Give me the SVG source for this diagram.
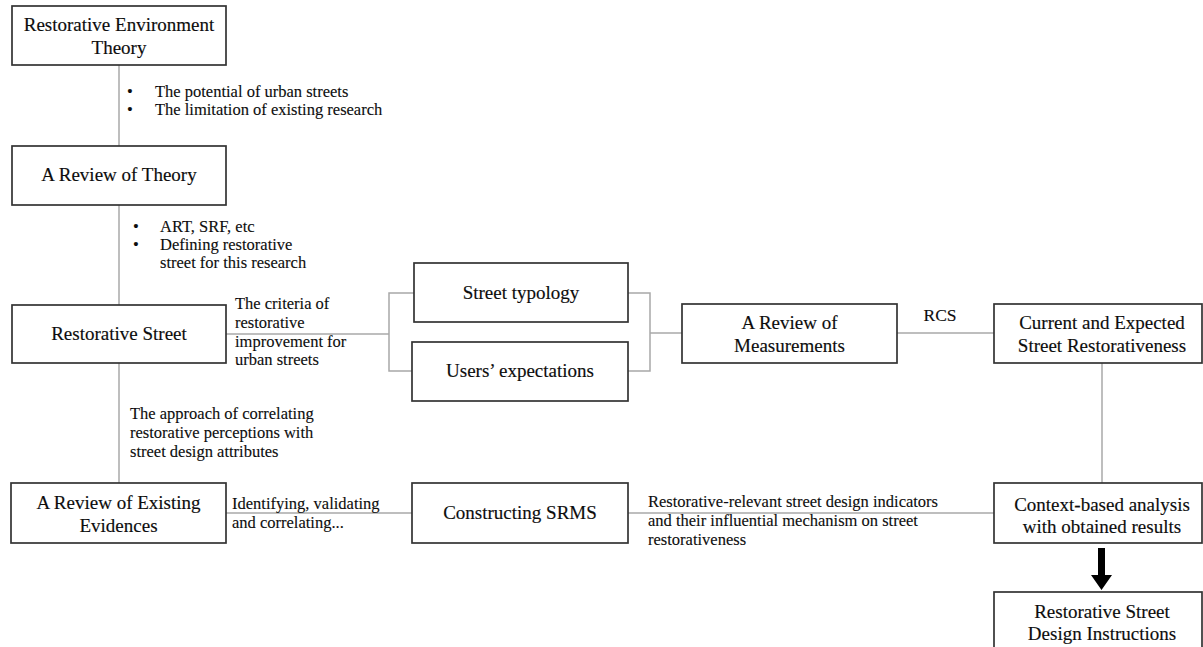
<svg xmlns="http://www.w3.org/2000/svg" width="1203" height="647" viewBox="0 0 1203 647">
  <style>
    .box { fill: #ffffff; stroke: #333333; stroke-width: 1.7; }
    .node { font-family: "Liberation Serif", "Times New Roman", serif; font-size: 19px; fill: #0d0d0d; text-anchor: middle; stroke: #0d0d0d; stroke-width: 0.15; }
    .lbl { font-family: "Liberation Serif", "Times New Roman", serif; font-size: 16.5px; fill: #0d0d0d; stroke: #0d0d0d; stroke-width: 0.12; }
    .link { fill: none; stroke: #a8a8a8; stroke-width: 1.5; }
  </style>
  <rect width="1203" height="647" fill="#ffffff"/>

  <!-- connectors -->
  <g id="connectors">
    <line class="link" x1="119" y1="65" x2="119" y2="146"/>
    <line class="link" x1="119" y1="205" x2="119" y2="305"/>
    <line class="link" x1="119" y1="363" x2="119" y2="483"/>
    <line class="link" x1="226" y1="334" x2="389" y2="334"/>
    <path class="link" d="M414,293 H389 V371 H412"/>
    <path class="link" d="M628,293 H650 V371 H628"/>
    <line class="link" x1="650" y1="333" x2="682" y2="333"/>
    <line class="link" x1="897" y1="333" x2="994" y2="333"/>
    <line class="link" x1="1102" y1="363" x2="1102" y2="483"/>
    <line class="link" x1="226" y1="513" x2="412" y2="513"/>
    <line class="link" x1="628" y1="513" x2="994" y2="513"/>
    <polygon points="1098,548 1105,548 1105,575 1112,575 1101.5,590 1091,575 1098,575" fill="#000000"/>
  </g>

  <!-- connector labels -->
  <g id="labels" class="lbl">
    <text x="127" y="97">•</text>
    <text x="155" y="97">The potential of urban streets</text>
    <text x="127" y="115">•</text>
    <text x="155" y="115">The limitation of existing research</text>

    <text x="133" y="232">•</text>
    <text x="160" y="232">ART, SRF, etc</text>
    <text x="133" y="250">•</text>
    <text x="160" y="250">Defining restorative</text>
    <text x="160" y="268">street for this research</text>

    <text x="235" y="309">The criteria of</text>
    <text x="235" y="328">restorative</text>
    <text x="235" y="347">improvement for</text>
    <text x="235" y="365">urban streets</text>

    <text x="130" y="419">The approach of correlating</text>
    <text x="130" y="438">restorative perceptions with</text>
    <text x="130" y="457">street design attributes</text>

    <text x="232" y="509">Identifying, validating</text>
    <text x="232" y="528">and correlating...</text>

    <text x="648" y="507">Restorative-relevant street design indicators</text>
    <text x="648" y="526">and their influential mechanism on street</text>
    <text x="648" y="545">restorativeness</text>

    <text x="940" y="321" text-anchor="middle" font-size="17.5">RCS</text>
  </g>

  <!-- nodes -->
  <g id="n-ret">
    <rect class="box" x="12" y="6" width="214" height="59"/>
    <text class="node" x="119" y="31">Restorative Environment</text>
    <text class="node" x="119" y="54">Theory</text>
  </g>
  <g id="n-review-theory">
    <rect class="box" x="12" y="146" width="214" height="59"/>
    <text class="node" x="119" y="181">A Review of Theory</text>
  </g>
  <g id="n-restorative-street">
    <rect class="box" x="12" y="305" width="214" height="58"/>
    <text class="node" x="119" y="340">Restorative Street</text>
  </g>
  <g id="n-typology">
    <rect class="box" x="414" y="263" width="214" height="59"/>
    <text class="node" x="521" y="299">Street typology</text>
  </g>
  <g id="n-expectations">
    <rect class="box" x="412" y="342" width="216" height="59"/>
    <text class="node" x="520" y="377">Users’ expectations</text>
  </g>
  <g id="n-measurements">
    <rect class="box" x="682" y="304" width="215" height="59"/>
    <text class="node" x="789.5" y="329">A Review of</text>
    <text class="node" x="789.5" y="352">Measurements</text>
  </g>
  <g id="n-current-expected">
    <rect class="box" x="994" y="304" width="208" height="59"/>
    <text class="node" x="1102" y="329">Current and Expected</text>
    <text class="node" x="1102" y="352">Street Restorativeness</text>
  </g>
  <g id="n-evidences">
    <rect class="box" x="11" y="483" width="215" height="60"/>
    <text class="node" x="118.5" y="509">A Review of Existing</text>
    <text class="node" x="118.5" y="532">Evidences</text>
  </g>
  <g id="n-srms">
    <rect class="box" x="412" y="483" width="216" height="60"/>
    <text class="node" x="520" y="519">Constructing SRMS</text>
  </g>
  <g id="n-context">
    <rect class="box" x="994" y="483" width="208" height="60"/>
    <text class="node" x="1102" y="511">Context-based analysis</text>
    <text class="node" x="1102" y="533">with obtained results</text>
  </g>
  <g id="n-instructions">
    <rect class="box" x="994" y="592" width="208" height="70"/>
    <text class="node" x="1102" y="618">Restorative Street</text>
    <text class="node" x="1102" y="640">Design Instructions</text>
  </g>
</svg>
